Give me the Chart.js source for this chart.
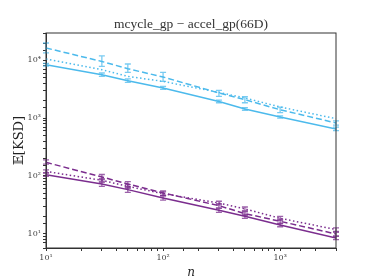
<!DOCTYPE html>
<html>
<head>
<meta charset="utf-8">
<script src="https://cdn.jsdelivr.net/npm/chart.js@4"></script>
<style>
  html, body { margin: 0; padding: 0; background: #fff; }
  #wrap { width: 374px; height: 280px; }
</style>
</head>
<body>
<div id="wrap"><canvas id="grafico" width="374" height="280"></canvas></div>
<script>
// Valores
const N = [10, 30, 50, 100, 300, 500, 1000, 3000];

const CYAN_SOLIDA = [8430, 5660, 4460, 3330, 1950, 1440, 1050, 650];
const CYAN_SOLIDA_LO = [8000, 5300, 4150, 3150, 1850, 1370, 1000, 610];
const CYAN_SOLIDA_HI = [8900, 6050, 4800, 3550, 2060, 1520, 1100, 700];

const CYAN_RAYAS = [16400, 9600, 7180, 5160, 2730, 2090, 1400, 826];
const CYAN_RAYAS_LO = [13500, 7870, 6200, 4330, 2380, 1850, 1250, 760];
const CYAN_RAYAS_HI = [20000, 12000, 8670, 6200, 3030, 2350, 1550, 900];

const CYAN_PUNTOS = [10570, 6900, 5290, 4330, 2790, 2240, 1560, 980];

const VIOLETA_SOLIDA = [105, 72.6, 58, 41.6, 25.4, 20, 14.2, 8.45];
const VIOLETA_SOLIDA_LO = [98, 66, 52, 38, 23.5, 18.5, 13.2, 7.9];
const VIOLETA_SOLIDA_HI = [112, 79, 64, 45, 27.5, 21.5, 15.3, 9.0];

const VIOLETA_RAYAS = [172, 96, 72.6, 50.8, 30.6, 22.3, 16.4, 9.9];
const VIOLETA_RAYAS_LO = [160, 86, 65, 46, 28, 20.5, 15.0, 9.2];
const VIOLETA_RAYAS_HI = [190, 106, 80, 55, 33, 24, 17.8, 10.6];

const VIOLETA_PUNTOS = [120, 84, 66, 49.5, 34, 26.9, 18.5, 11.8];
const VIOLETA_PUNTOS_LO = [114, 78, 61, 46, 31.5, 25, 17, 11];
const VIOLETA_PUNTOS_HI = [127, 90, 71, 53, 36.5, 29, 20, 12.6];

const TITULO = 'mcycle_gp \u2212 accel_gp(66D)';
const ETIQUETA_X = 'n';
const ETIQUETA_Y = '\u{1D53C}[KSD]';

const CELESTE = '#4cbaec';
const VIOLETA = '#7b2d8e';
const SUP = { '1': '\u00b9', '2': '\u00b2', '3': '\u00b3', '4': '\u2074' };

function serie(datos, color, dash, lo, hi) {
    return {
        data: N.map((n, i) => ({ x: n, y: datos[i] })),
        borderColor: color,
        backgroundColor: color,
        borderWidth: 1.5,
        borderDash: dash,
        pointRadius: 0,
        fill: false,
        tension: 0,
        errLo: lo,
        errHi: hi
    };
}

// Plugin para barras de error, usando las escalas del gráfico
const barrasError = {
    id: 'barrasError',
    afterDatasetsDraw(chart) {
        const ctx = chart.ctx;
        const sx = chart.scales.x, sy = chart.scales.y;
        ctx.save();
        chart.data.datasets.forEach(ds => {
            if (!ds.errLo) return;
            ctx.strokeStyle = ds.borderColor;
            ctx.globalAlpha = 0.75;
            ctx.lineWidth = 1.3;
            ctx.setLineDash([]);
            N.forEach((n, i) => {
                const px = sx.getPixelForValue(n);
                const y1 = sy.getPixelForValue(ds.errLo[i]);
                const y2 = sy.getPixelForValue(ds.errHi[i]);
                ctx.beginPath();
                ctx.moveTo(px, y1); ctx.lineTo(px, y2);
                ctx.moveTo(px - 3, y1); ctx.lineTo(px + 3, y1);
                ctx.moveTo(px - 3, y2); ctx.lineTo(px + 3, y2);
                ctx.stroke();
            });
        });
        ctx.restore();
    }
};

// Título centrado sobre el área del gráfico y marco completo
const marcoYTitulo = {
    id: 'marcoYTitulo',
    afterDraw(chart) {
        const a = chart.chartArea, ctx = chart.ctx;
        ctx.save();
        ctx.strokeStyle = '#333';
        ctx.lineWidth = 1;
        ctx.strokeRect(a.left, a.top, a.right - a.left, a.bottom - a.top);
        ctx.fillStyle = '#333';
        ctx.font = '13.5px "Liberation Serif"';
        ctx.textAlign = 'center';
        ctx.textBaseline = 'alphabetic';
        ctx.fillText(TITULO, (a.left + a.right) / 2, a.top - 5);
        ctx.restore();
    }
};

function etiquetaPotencia(v) {
    const e = Math.log10(v);
    if (Math.abs(e - Math.round(e)) > 1e-9) return '';
    return '10' + (SUP[String(Math.round(e))] || '');
}

new Chart(document.getElementById('grafico').getContext('2d'), {
    type: 'line',
    data: {
        datasets: [
            serie(CYAN_SOLIDA, CELESTE, [], CYAN_SOLIDA_LO, CYAN_SOLIDA_HI),
            serie(CYAN_RAYAS, CELESTE, [6, 3], CYAN_RAYAS_LO, CYAN_RAYAS_HI),
            serie(CYAN_PUNTOS, CELESTE, [1.5, 2.5], null, null),
            serie(VIOLETA_SOLIDA, VIOLETA, [], VIOLETA_SOLIDA_LO, VIOLETA_SOLIDA_HI),
            serie(VIOLETA_RAYAS, VIOLETA, [6, 3], VIOLETA_RAYAS_LO, VIOLETA_RAYAS_HI),
            serie(VIOLETA_PUNTOS, VIOLETA, [1.5, 2.5], VIOLETA_PUNTOS_LO, VIOLETA_PUNTOS_HI)
        ]
    },
    options: {
        responsive: false,
        animation: false,
        layout: { padding: { left: 12, right: 38, top: 33, bottom: 0 } },
        plugins: {
            legend: { display: false },
            tooltip: { enabled: false },
            title: { display: false }
        },
        scales: {
            x: {
                type: 'logarithmic',
                min: 10,
                max: 3000,
                afterFit(s) { s.height = 32; },
                border: { display: true, color: '#333', width: 1 },
                grid: { drawOnChartArea: false, drawTicks: true, tickLength: 3, tickColor: '#333' },
                ticks: {
                    autoSkip: false,
                    maxRotation: 0,
                    color: '#444',
                    padding: 2,
                    font: { family: 'DejaVu Serif', size: 8 },
                    callback: v => etiquetaPotencia(v)
                },
                title: {
                    display: true,
                    text: ETIQUETA_X,
                    color: '#222',
                    font: { family: 'DejaVu Serif', size: 12, style: 'italic' },
                    padding: { top: 0, bottom: 0 }
                }
            },
            y: {
                type: 'logarithmic',
                min: 5.66,
                max: 29800,
                afterFit(s) { s.width = 34; },
                border: { display: true, color: '#333', width: 1 },
                grid: { drawOnChartArea: false, drawTicks: true, tickLength: 3, tickColor: '#333' },
                ticks: {
                    autoSkip: false,
                    color: '#444',
                    padding: 2,
                    font: { family: 'DejaVu Serif', size: 8 },
                    callback: v => etiquetaPotencia(v)
                },
                title: {
                    display: true,
                    text: ETIQUETA_Y,
                    color: '#222',
                    font: { family: 'DejaVu Serif', size: 13 },
                    padding: { top: 0, bottom: 0 }
                }
            }
        }
    },
    plugins: [barrasError, marcoYTitulo]
});
</script>
</body>
</html>
